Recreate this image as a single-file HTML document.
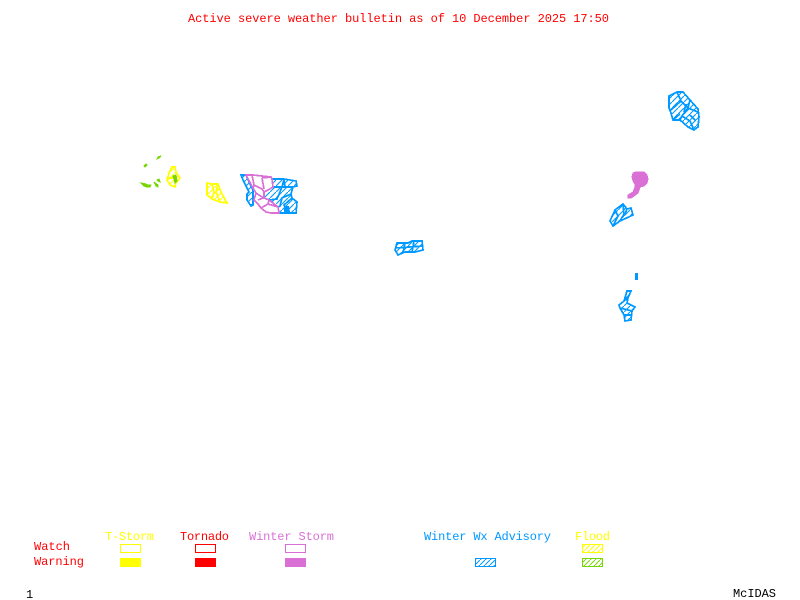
<!DOCTYPE html>
<html>
<head>
<meta charset="utf-8">
<style>
html,body{margin:0;padding:0;background:#fff;width:800px;height:600px;overflow:hidden}
svg{display:block}
text{font-family:"Liberation Mono",monospace;font-size:12px}
.m{shape-rendering:crispEdges}
</style>
</head>
<body>
<svg width="800" height="600" viewBox="0 0 800 600" xmlns="http://www.w3.org/2000/svg">
<defs>
<pattern id="hb" patternUnits="userSpaceOnUse" width="6" height="6"><path d="M-1 7L7 -1" stroke="#0099ff" stroke-width="1.1" fill="none"/></pattern>
<pattern id="hy" patternUnits="userSpaceOnUse" width="6" height="6"><path d="M-1 7L7 -1" stroke="#ffff00" stroke-width="1.1" fill="none"/></pattern>
<pattern id="lb" patternUnits="userSpaceOnUse" width="5" height="5"><path d="M-1 6L6 -1" stroke="#0099ff" stroke-width="1" fill="none"/></pattern>
<pattern id="ly" patternUnits="userSpaceOnUse" width="5" height="5"><path d="M-1 6L6 -1" stroke="#ffff00" stroke-width="1" fill="none"/></pattern>
<pattern id="lg" patternUnits="userSpaceOnUse" width="5" height="5"><path d="M-1 6L6 -1" stroke="#76d600" stroke-width="1" fill="none"/></pattern>
</defs>

<text x="188" y="22" fill="#ff0000" textLength="421">Active severe weather bulletin as of 10 December 2025 17:50</text>

<!-- Green flood -->
<g class="m" fill="#76d600" stroke="#76d600" stroke-width="1">
<polygon points="157,159 158,157 161,156 159,158"/>
<polygon points="144,166 146,164 147,165 145,167"/>
<polygon points="141,183 146,184 148,185 151,185 150,187 147,187 144,186"/>
<polygon points="154,182 158,185 158,187 156,186"/>
<polygon points="157,180 159,179 160,182 158,181"/>
</g>

<!-- Yellow -->
<g class="m" fill="url(#hy)" stroke="#ffff00" stroke-width="1.7">
<polygon points="172,167 175,167 176,172 180,178 176,183 175,187 170,185 167,180 169,173"/>
<polygon points="207,183 212,184 218,184 221,192 227,203 220,202 212,199 207,195"/>
<path d="M212,184L214,192L212,199M218,184L216,192L220,202" fill="none"/>
<path d="M168,178L176,178" fill="none"/>
</g>
<polygon class="m" points="173,176 176,175 177,181 175,183 174,179" fill="#76d600" stroke="#76d600"/>

<!-- Montana-like cluster -->
<g class="m" fill="url(#hb)" stroke="#0099ff" stroke-width="1.7">
<polygon points="272,179 284,179 296,181 297,186 293,187 291,194 292,198 297,202 296,213 279,213 278,207 269,200 264,198 264,192 268,190 273,187"/>
<polygon points="241,175 246,175 249,182 253,190 253,205 251,206 247,200 247,194 249,192 243,180"/>
<path d="M284,179L282,187L273,187M293,187L282,187L277,199L269,200M291,194L282,198L280,206L278,207M292,198L284,205L288,213M284,179L285,186" fill="none"/>
</g>
<polygon class="m" points="284,206 289,206 290,212 284,212" fill="#0099ff"/>
<g class="m" fill="none" stroke="#da70d6" stroke-width="1.7">
<polygon points="246,175 253,175 271,177 272,179 273,187 268,190 264,192 264,198 269,200 278,207 279,213 271,213 266,212 261,208 258,204 254,200 256,193 253,188"/>
<path d="M252,175L254,185L253,188M254,185L262,189L264,192M262,178L264,189M271,177L262,178M256,193L262,197L264,198M258,200L263,198M261,208L268,204L278,207M268,204L269,200"/>
</g>

<!-- Northeast cluster -->
<g class="m" fill="url(#hb)" stroke="#0099ff" stroke-width="1.7">
<polygon points="669,96 677,92 683,92 690,100 698,109 699,117 698,127 694,130 688,127 680,120 673,120 671,113 669,108"/>
<path d="M677,92L681,101L671,110M681,101L688,108L682,116L680,120M688,108L698,112M682,116L690,121L694,130M690,100L688,108M673,120L680,114M686,104L684,112M690,115L696,121" fill="none"/>
<polygon points="610,221 615,210 623,204 627,209 631,208 633,215 620,221 613,226"/>
<path d="M615,210L618,216L613,226M623,204L624,214L620,221M627,209L625,214" fill="none"/>
<polygon points="397,243 408,243 412,241 422,241 423,250 415,252 405,252 398,255 395,250"/>
<path d="M395,248L423,246M405,243L403,253M414,241L412,252" fill="none"/>
<polygon points="627,291 631,291 628,298 627,303 635,307 632,311 631,320 625,321 624,315 620,308 619,305 624,301"/>
<path d="M624,301L628,298M620,308L632,311M624,315L631,315" fill="none"/>
</g>
<path class="m" d="M633,173L636,172L644,172L647,175L648,179L647,183L644,186L640,187L638,193L634,196L631,198L628,198L628,195L633,192L635,187L635,184L633,181L632,177Z" fill="#da70d6" stroke="#da70d6"/>
<rect class="m" x="635" y="273" width="3" height="7" fill="#0099ff"/>

<!-- Legend -->
<text x="105" y="540" fill="#ffff00" textLength="49">T-Storm</text>
<text x="180" y="540" fill="#ff0000" textLength="49">Tornado</text>
<text x="249" y="540" fill="#da70d6" textLength="85">Winter Storm</text>
<text x="424" y="540" fill="#0099ff" textLength="127">Winter Wx Advisory</text>
<text x="575" y="540" fill="#ffff00" textLength="35">Flood</text>
<text x="34" y="550" fill="#ff0000" textLength="36">Watch</text>
<text x="34" y="565" fill="#ff0000" textLength="50">Warning</text>

<g shape-rendering="crispEdges">
<rect x="120.5" y="544.5" width="20" height="8" fill="none" stroke="#ffff00"/>
<rect x="195.5" y="544.5" width="20" height="8" fill="none" stroke="#ff0000"/>
<rect x="285.5" y="544.5" width="20" height="8" fill="none" stroke="#da70d6"/>
<rect x="582.5" y="544.5" width="20" height="8" fill="url(#ly)" stroke="#ffff00"/>
<rect x="120" y="558" width="21" height="9" fill="#ffff00"/>
<rect x="195" y="558" width="21" height="9" fill="#ff0000"/>
<rect x="285" y="558" width="21" height="9" fill="#da70d6"/>
<rect x="475.5" y="558.5" width="20" height="8" fill="url(#lb)" stroke="#0099ff"/>
<rect x="582.5" y="558.5" width="20" height="8" fill="url(#lg)" stroke="#76d600"/>
</g>

<text x="26" y="598" fill="#000">1</text>
<text x="733" y="597" fill="#000" textLength="43">McIDAS</text>
</svg>
</body>
</html>
